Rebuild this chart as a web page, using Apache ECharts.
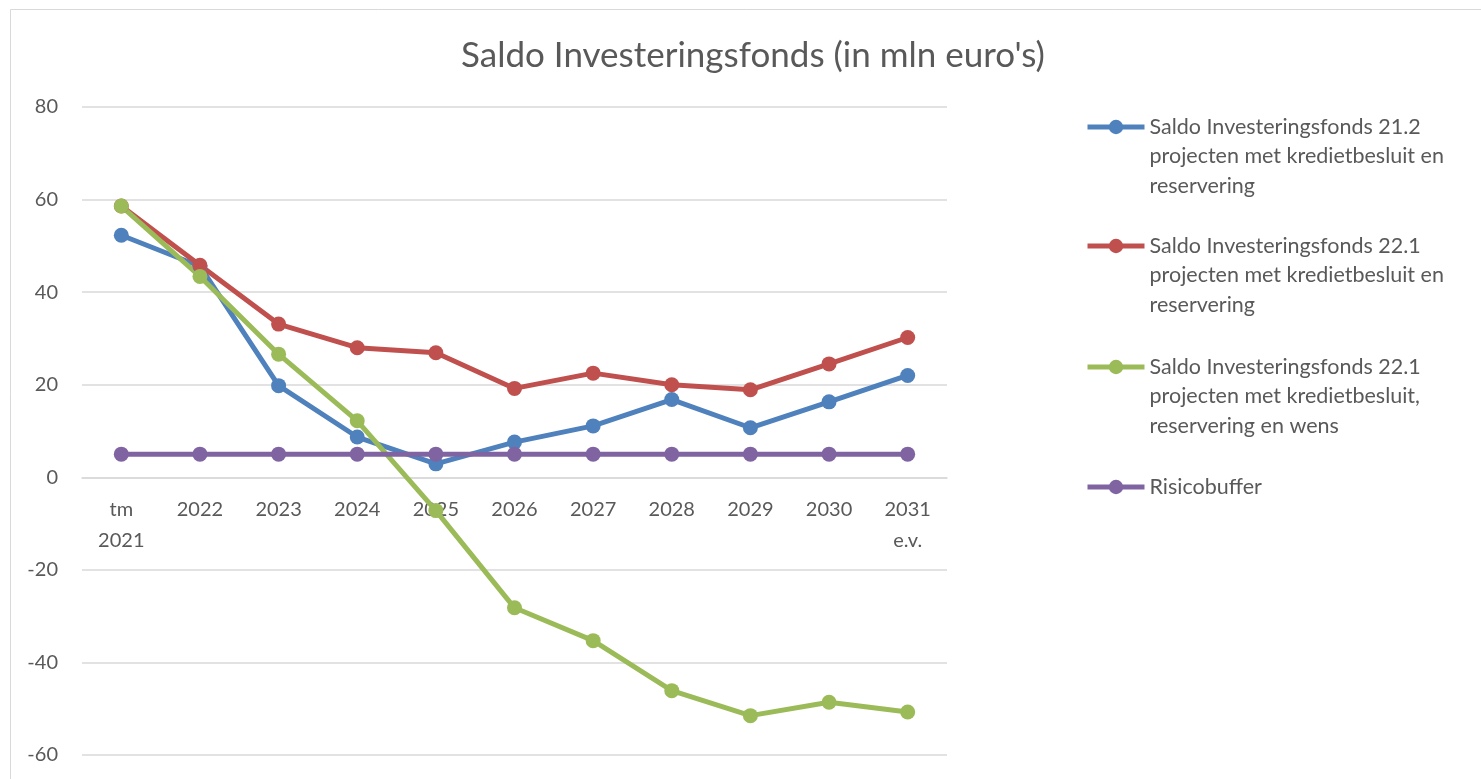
<!DOCTYPE html>
<html>
<head>
<meta charset="utf-8">
<script src="https://cdn.jsdelivr.net/npm/echarts@6/dist/echarts.min.js"></script>
<style>
html,body{margin:0;padding:0;background:#fff;}
#main{width:1481px;height:779px;}
</style>
</head>
<body>
<div id="main"></div>
<script>
// categorieen en reeksen
var categories = ['tm\n2021','2022','2023','2024','2025','2026','2027','2028','2029','2030','2031\ne.v.'];
var saldo212 = [52.3, 45.6, 19.8, 8.7, 2.9, 7.6, 11.1, 16.8, 10.7, 16.3, 22.0];
var saldo221 = [58.6, 45.8, 33.1, 28.0, 26.9, 19.2, 22.5, 20.0, 18.9, 24.5, 30.2];
var saldo221Wens = [58.6, 43.4, 26.6, 12.2, -7.2, -28.2, -35.3, -46.1, -51.5, -48.6, -50.7];
var risicobuffer = [5, 5, 5, 5, 5, 5, 5, 5, 5, 5, 5];
var seriesNames = [
  'Saldo Investeringsfonds 21.2\nprojecten met kredietbesluit en\nreservering',
  'Saldo Investeringsfonds 22.1\nprojecten met kredietbesluit en\nreservering',
  'Saldo Investeringsfonds 22.1\nprojecten met kredietbesluit,\nreservering en wens',
  'Risicobuffer'
];
var colors = ['#4f81bd','#c0504d','#9bbb59','#8064a2'];
var font = 'Lato, "Open Sans", sans-serif';

var chart = echarts.init(document.getElementById('main'));

function makeSeries(i, data){
  return {
    name: seriesNames[i],
    type: 'line',
    data: data,
    symbol: 'circle',
    symbolSize: 15,
    color: colors[i],
    lineStyle: {width: 5, color: colors[i]},
    itemStyle: {color: colors[i]},
    emphasis: {disabled: true},
    animation: false
  };
}

var gridTop = 107, gridBottom = 24, yMin = -60, yMax = 80;
// x-as op de nullijn leggen (onZero werkt hier niet voor de labels)
var plotH = 779 - gridTop - gridBottom;
var zeroOffset = -(plotH * (0 - yMin) / (yMax - yMin));

//legenda: elk item apart, lege regels ervoor zodat het icoon bij de eerste regel staat
var legendCenters = [127, 246, 367, 487];
var lh = 29.5;
var legends = seriesNames.map(function(name, i){
  var lines = name.split('\n').length;
  var pad = '';
  for (var k = 1; k < lines; k++) pad += '\n';
  var total = lines * 2 - 1;
  return {
    left: 1085,
    top: legendCenters[i] - total * lh / 2,
    padding: 0,
    itemWidth: 57,
    itemHeight: 18,
    itemGap: 3,
    selectedMode: false,
    lineStyle: {width: 5},
    formatter: function(n){ return pad + n; },
    textStyle: {
      color: '#595959',
      fontSize: 21.5,
      fontFamily: font,
      lineHeight: lh
    },
    data: [name]
  };
});

var option = {
  backgroundColor: '#fff',
  title: {
    text: "Saldo Investeringsfonds (in mln euro's)",
    left: 748,
    top: 33,
    textAlign: 'center',
    textStyle: {color: '#595959', fontSize: 35, fontWeight: 'normal', fontFamily: font}
  },
  legend: legends,
  graphic: [{
    type: 'rect',
    shape: {x: 10.5, y: 9.5, width: 1480, height: 780},
    style: {fill: 'none', stroke: '#d9d9d9', lineWidth: 1},
    silent: true
  }],
  grid: {left: 82, right: 534, top: gridTop, bottom: gridBottom, containLabel: false, outerBoundsMode: 'none'},
  xAxis: {
    type: 'category',
    data: categories,
    boundaryGap: true,
    offset: zeroOffset,
    axisLine: {onZero: false, lineStyle: {color: '#d9d9d9', width: 1.5}},
    axisTick: {show: false},
    axisLabel: {color: '#595959', fontSize: 20, fontFamily: font, margin: 17, lineHeight: 31, interval: 0}
  },
  yAxis: {
    type: 'value',
    min: yMin,
    max: yMax,
    interval: 20,
    axisLine: {show: false},
    axisTick: {show: false},
    splitLine: {lineStyle: {color: '#d9d9d9', width: 1.5}},
    axisLabel: {color: '#595959', fontSize: 20, fontFamily: font, margin: 24}
  },
  series: [
    makeSeries(0, saldo212),
    makeSeries(1, saldo221),
    makeSeries(2, saldo221Wens),
    makeSeries(3, risicobuffer)
  ]
};
chart.setOption(option);
</script>
</body>
</html>
